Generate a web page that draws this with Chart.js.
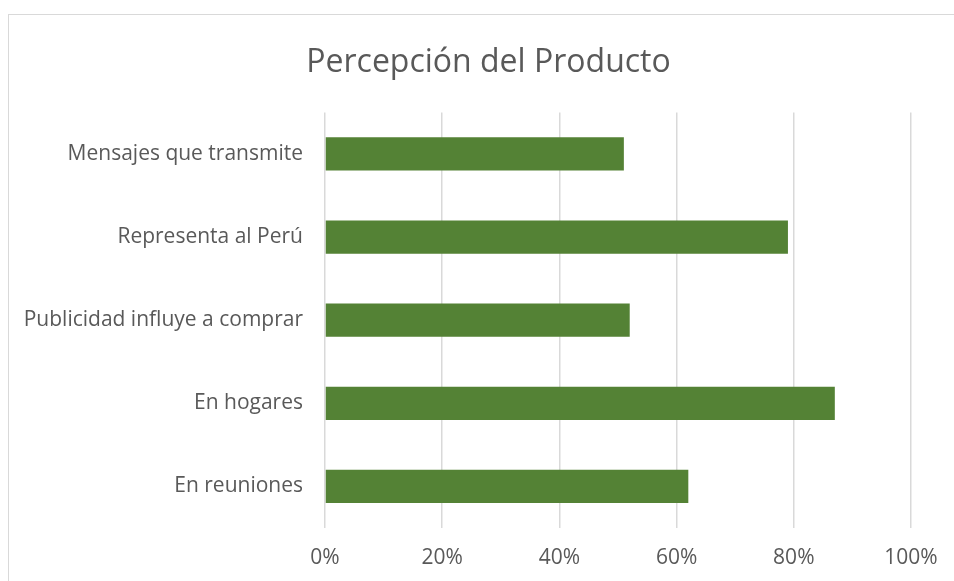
<!DOCTYPE html>
<html>
<head>
<meta charset="utf-8">
<script src="https://cdn.jsdelivr.net/npm/chart.js@4"></script>
<style>
  body { margin: 0; background: #fff; overflow: hidden; }
  #marco { position: absolute; left: 8px; top: 14px; width: 959px; height: 580px; border: 1px solid #d9d9d9; }
</style>
</head>
<body>
<div id="marco"><canvas id="grafico" width="959" height="580"></canvas></div>
<script>
// datos del grafico
const titulo = 'Percepción del Producto';
const categorias = ['Mensajes que transmite', 'Representa al Perú', 'Publicidad influye a comprar', 'En hogares', 'En reuniones'];
const valores = [0.51, 0.79, 0.52, 0.87, 0.62];
const ticksX = [0, 0.2, 0.4, 0.6, 0.8, 1];

const gris = '#595959';
const fuente = "'Open Sans', sans-serif";

// el titulo va centrado en todo el marco, no solo a la izquierda del eje
const centrarTitulo = {
    id: 'centrarTitulo',
    afterLayout(chart) {
        const t = chart.titleBlock;
        const mover = (chart.width - (t.left + t.right)) / 2;
        t.left += mover;
        t.right += mover;
    }
};

var ctx = document.getElementById('grafico').getContext('2d');
var chart = new Chart(ctx, {
    type: 'bar',
    data: {
        labels: categorias,
        datasets: [{
            data: valores,
            backgroundColor: '#548235',
            borderWidth: 0,
            barPercentage: 0.4,
            categoryPercentage: 1
        }]
    },
    options: {
        indexAxis: 'y',
        responsive: false,
        animation: false,
        layout: { padding: { left: 0, right: 57, top: 0, bottom: 17 } },
        plugins: {
            legend: { display: false },
            tooltip: { enabled: false },
            title: {
                display: true,
                text: titulo,
                color: gris,
                font: { family: fuente, size: 32, weight: 'normal' },
                padding: { top: 29, bottom: 30 }
            }
        },
        scales: {
            x: {
                min: 0,
                max: 1,
                afterBuildTicks: function(scale) {
                    scale.ticks = ticksX.map(v => ({ value: v }));
                },
                afterFit: function(scale) { scale.height = 50; },
                grid: { color: '#d9d9d9', lineWidth: 1.5, drawTicks: false },
                border: { display: false },
                ticks: {
                    padding: 17,
                    color: gris,
                    font: { family: fuente, size: 21 },
                    callback: v => Math.round(v * 100) + '%'
                }
            },
            y: {
                afterFit: function(scale) { scale.width = 316; },
                grid: { display: false, drawTicks: false },
                border: { display: false },
                ticks: {
                    padding: 22,
                    color: gris,
                    font: { family: fuente, size: 21 }
                }
            }
        }
    },
    plugins: [centrarTitulo]
});
</script>
</body>
</html>
